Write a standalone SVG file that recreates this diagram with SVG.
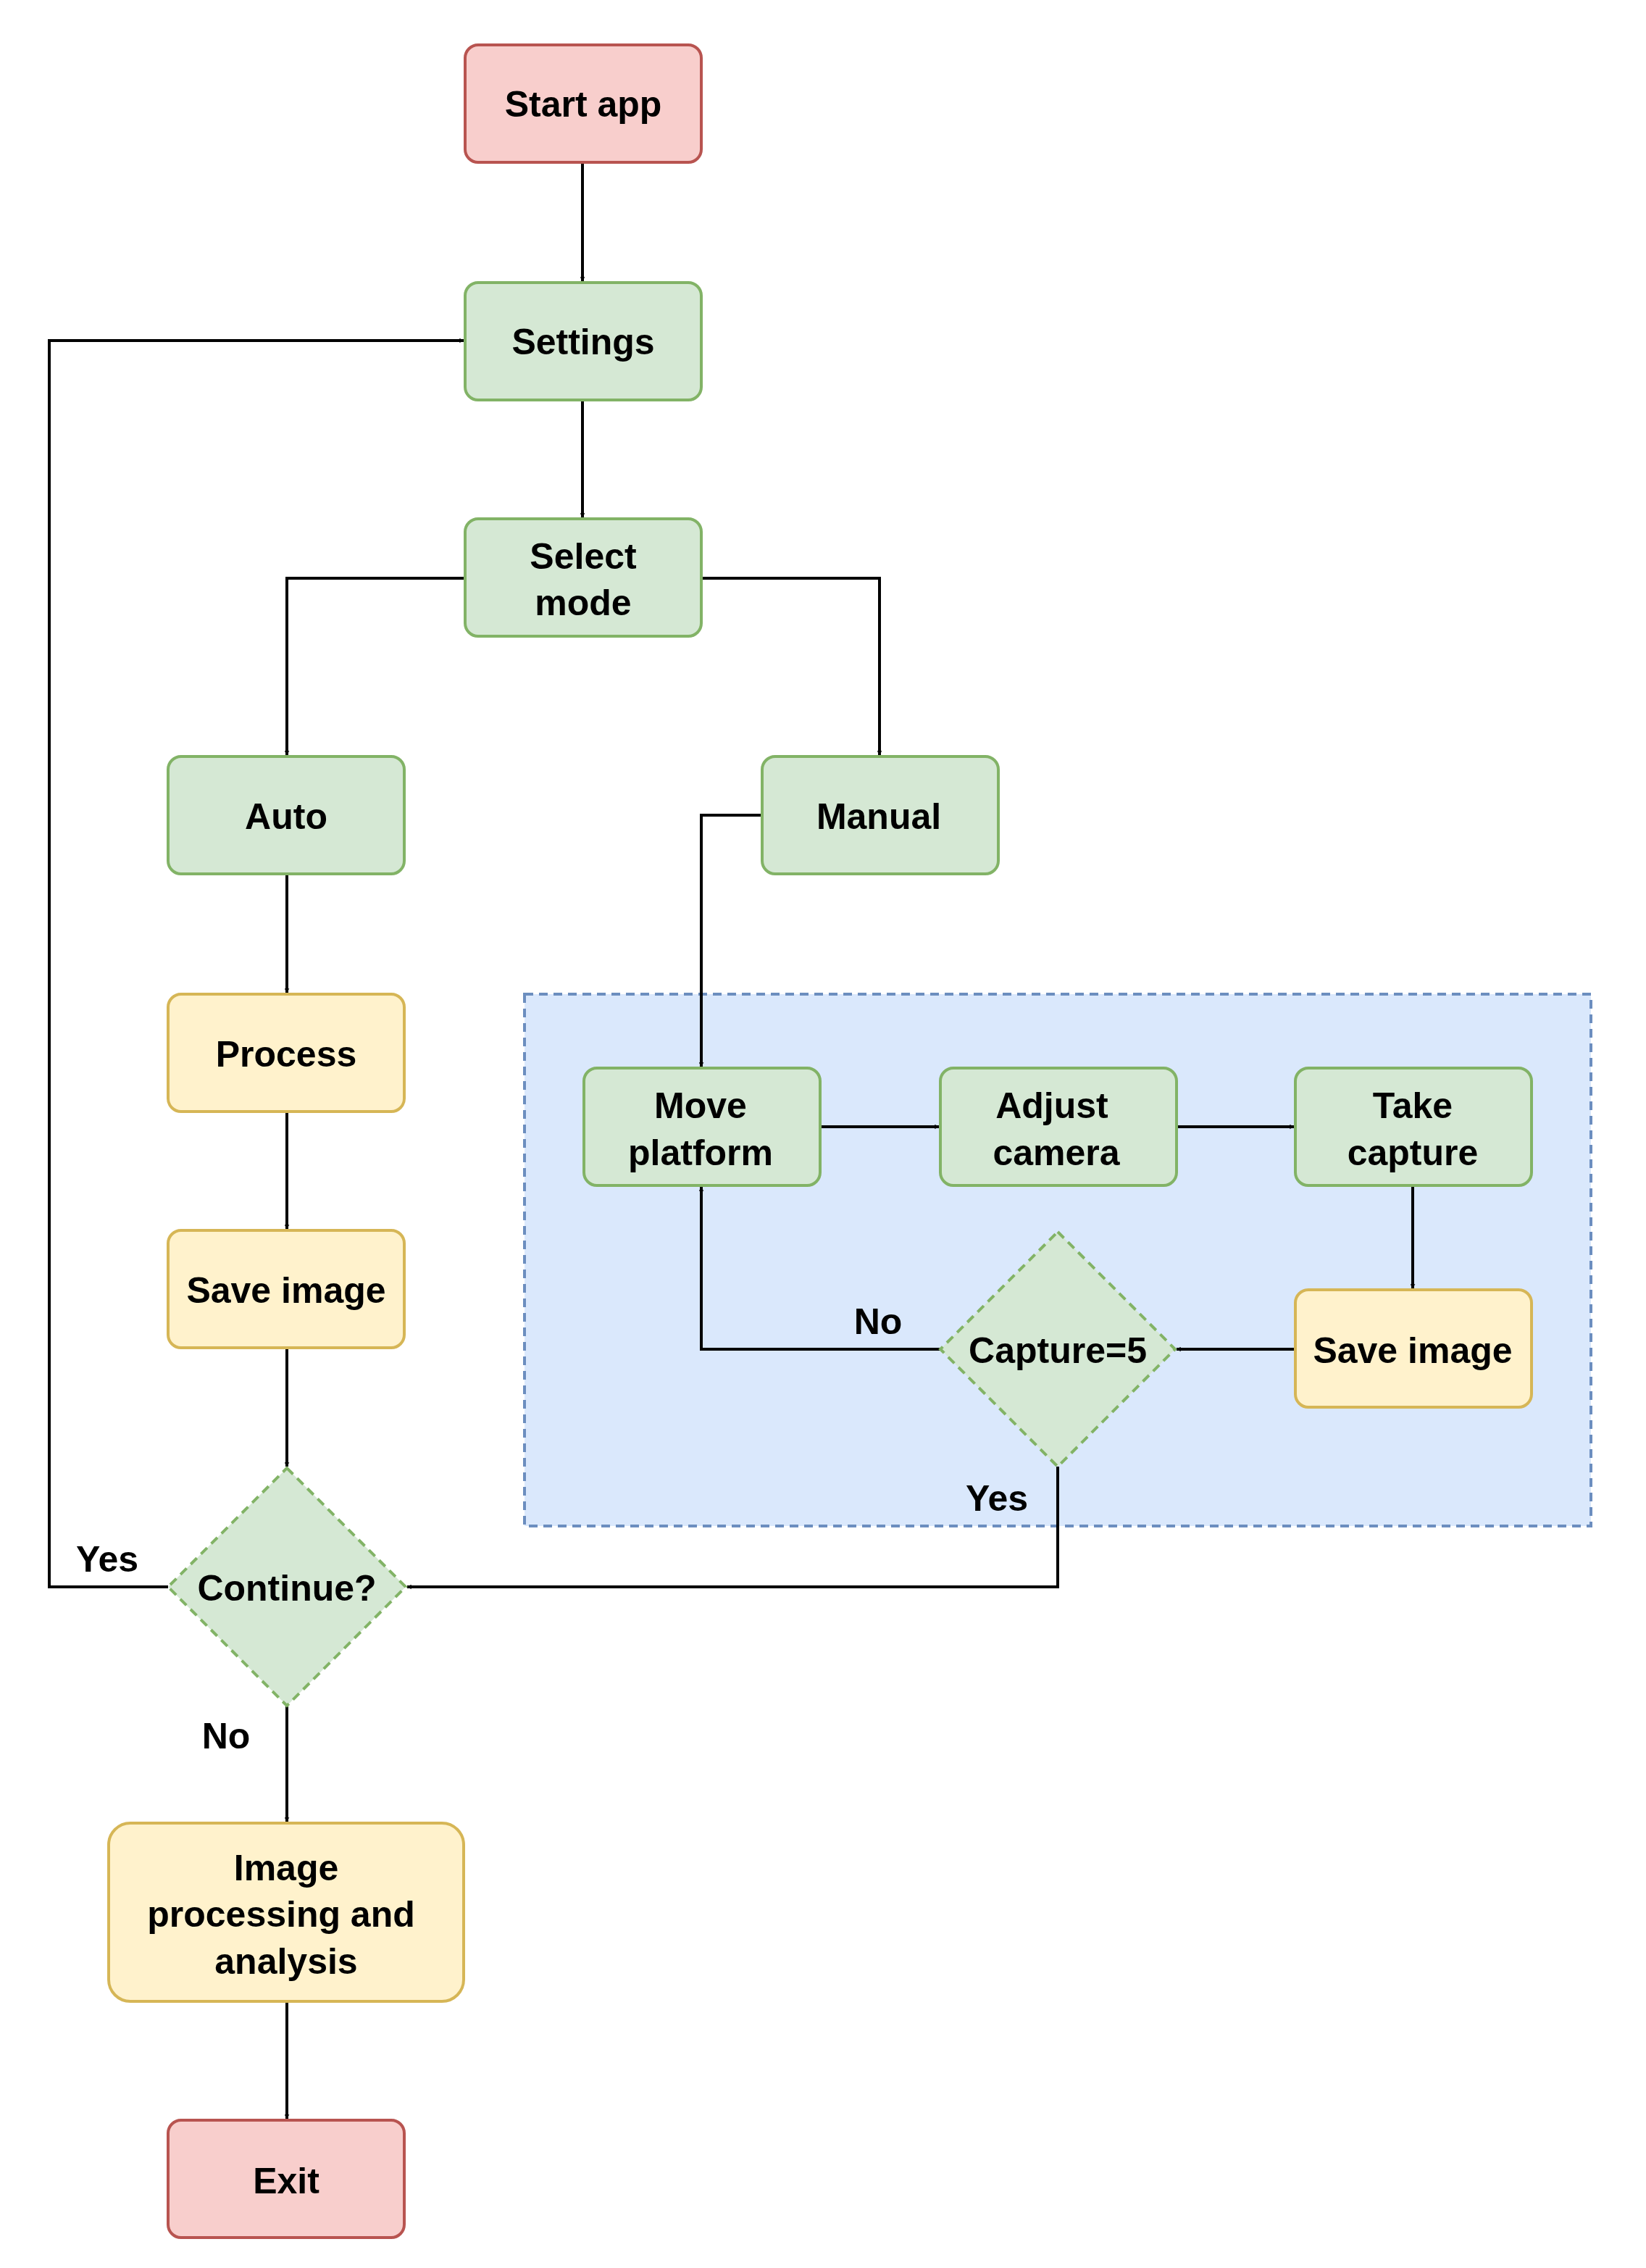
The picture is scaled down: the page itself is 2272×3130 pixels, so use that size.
<svg xmlns="http://www.w3.org/2000/svg" width="2272" height="3130" viewBox="0 0 2272 3130">
<defs>
<style>
.t{font-family:"Liberation Sans",Arial,sans-serif;font-weight:bold;font-size:50px;fill:#000;text-anchor:middle;dominant-baseline:central}
.r{fill:#f8cecc;stroke:#b85450;stroke-width:4}
.g{fill:#d5e8d4;stroke:#82b366;stroke-width:4}
.y{fill:#fff2cc;stroke:#d6b656;stroke-width:4}
.gd{fill:#d5e8d4;stroke:#82b366;stroke-width:4;stroke-dasharray:12 8}
.c{fill:none;stroke:#000;stroke-width:4}
</style>
<marker id="a" viewBox="0 0 10 10" refX="9" refY="5" markerWidth="7" markerHeight="7" markerUnits="userSpaceOnUse" orient="auto"><path d="M0,0 L10,5 L0,10 L3,5 Z" fill="#000"/></marker>
</defs>
<rect id="container" x="724" y="1372" width="1472" height="734" fill="#dae8fc" stroke="#6c8ebf" stroke-width="4" stroke-dasharray="12 8"/>
<g id="connectors">
<path class="c" marker-end="url(#a)" d="M804,224 V388" style="marker-end:url(#a)"/>
<path class="c" d="M804,552 V714" marker-end="url(#a)"/>
<path class="c" d="M642,798 H396 V1042" marker-end="url(#a)"/>
<path class="c" d="M968,798 H1214 V1042" marker-end="url(#a)"/>
<path class="c" d="M1052,1125 H968 V1472" marker-end="url(#a)"/>
<path class="c" d="M396,1206 V1370" marker-end="url(#a)"/>
<path class="c" d="M396,1534 V1696" marker-end="url(#a)"/>
<path class="c" d="M396,1860 V2024" marker-end="url(#a)"/>
<path class="c" d="M232,2190 H68 V470 H640" marker-end="url(#a)"/>
<path class="c" d="M396,2354 V2514" marker-end="url(#a)"/>
<path class="c" d="M396,2762 V2924" marker-end="url(#a)"/>
<path class="c" d="M1132,1555 H1296" marker-end="url(#a)"/>
<path class="c" d="M1624,1555 H1786" marker-end="url(#a)"/>
<path class="c" d="M1950,1636 V1778" marker-end="url(#a)"/>
<path class="c" d="M1788,1862 H1624" marker-end="url(#a)"/>
<path class="c" d="M1298,1862 H968 V1638" marker-end="url(#a)"/>
<path class="c" d="M1460,2024 V2190 H562" marker-end="url(#a)"/>
<text class="t" x="148" y="2152">Yes</text>
<text class="t" x="312" y="2396">No</text>
<text class="t" x="1212" y="1824">No</text>
<text class="t" x="1376" y="2068">Yes</text>
</g>
<g id="start"><rect class="r" x="642" y="62" width="326" height="162" rx="18"/><text class="t" x="805" y="144">Start app</text></g>
<g id="settings"><rect class="g" x="642" y="390" width="326" height="162" rx="18"/><text class="t" x="805" y="472">Settings</text></g>
<g id="select"><rect class="g" x="642" y="716" width="326" height="162" rx="18"/><text class="t" x="805" y="768">Select</text><text class="t" x="805" y="832">mode</text></g>
<g id="auto"><rect class="g" x="232" y="1044" width="326" height="162" rx="18"/><text class="t" x="395" y="1127">Auto</text></g>
<g id="manual"><rect class="g" x="1052" y="1044" width="326" height="162" rx="18"/><text class="t" x="1213" y="1127">Manual</text></g>
<g id="process"><rect class="y" x="232" y="1372" width="326" height="162" rx="18"/><text class="t" x="395" y="1455">Process</text></g>
<g id="save1"><rect class="y" x="232" y="1698" width="326" height="162" rx="18"/><text class="t" x="395" y="1781">Save image</text></g>
<g id="continue"><polygon class="gd" points="396,2026 560,2190 396,2354 232,2190"/><text class="t" x="396" y="2192">Continue?</text></g>
<g id="imgproc"><rect class="y" x="150" y="2516" width="490" height="246" rx="30"/><text class="t" x="395" y="2578">Image</text><text class="t" x="388" y="2642">processing and</text><text class="t" x="395" y="2707">analysis</text></g>
<g id="exit"><rect class="r" x="232" y="2926" width="326" height="162" rx="18"/><text class="t" x="395" y="3010">Exit</text></g>
<g id="move"><rect class="g" x="806" y="1474" width="326" height="162" rx="18"/><text class="t" x="967" y="1526">Move</text><text class="t" x="967" y="1591">platform</text></g>
<g id="adjust"><rect class="g" x="1298" y="1474" width="326" height="162" rx="18"/><text class="t" x="1452" y="1526">Adjust</text><text class="t" x="1458" y="1591">camera</text></g>
<g id="take"><rect class="g" x="1788" y="1474" width="326" height="162" rx="18"/><text class="t" x="1950" y="1526">Take</text><text class="t" x="1950" y="1591">capture</text></g>
<g id="save2"><rect class="y" x="1788" y="1780" width="326" height="162" rx="18"/><text class="t" x="1950" y="1864">Save image</text></g>
<g id="capture"><polygon class="gd" points="1460,1700 1622,1862 1460,2024 1298,1862"/><text class="t" x="1460" y="1864">Capture=5</text></g>
</svg>
